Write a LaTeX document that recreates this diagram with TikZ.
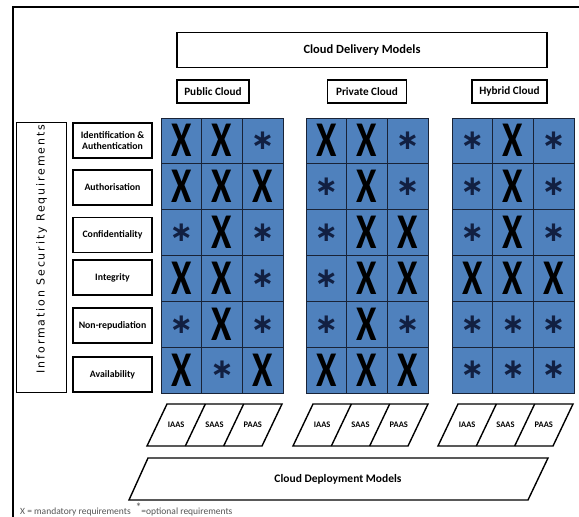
\documentclass[tikz,border=0pt]{standalone}
\usepackage{fontspec}
\setmainfont{Carlito}
\newfontfamily\titlefont[LetterSpace=17]{DejaVu Sans}
\newfontfamily\starfont{DejaVu Sans}
\usetikzlibrary{positioning}
\definecolor{cellblue}{RGB}{79,129,189}
\definecolor{gridline}{RGB}{25,35,55}
\definecolor{starblue}{RGB}{18,32,66}
\definecolor{notegray}{RGB}{85,85,85}
\tikzset{
  box/.style={draw,line width=1.6pt},
  rowlabel/.style={box,minimum width=79pt,minimum height=35pt,align=center,inner sep=1pt,font=\bfseries\fontsize{9.8}{11.5}\selectfont},
  cloudbox/.style={box,minimum height=23pt,inner sep=2pt,font=\bfseries\fontsize{11.2}{13}\selectfont},
  cell/.style={fill=cellblue,draw=gridline,line width=0.8pt},
  symX/.style={anchor=base,yshift=-16pt,inner sep=0pt,font=\bfseries\fontsize{50}{50}\selectfont},
  symS/.style={inner sep=0pt,text=starblue,font=\starfont\bfseries\fontsize{28}{28}\selectfont},
  layer/.style={line width=1.4pt,line join=miter},
  svc/.style={inner sep=0pt,font=\bfseries\fontsize{8.5}{9}\selectfont},
}
\begin{document}
\begin{tikzpicture}[x=1pt,y=-1pt]
    \useasboundingbox (0,0) rectangle (579,517);
    \draw[line width=1.8pt] (13,517) -- (13,7) -- (579,7);

    \node[box,minimum width=370pt,minimum height=35pt,font=\bfseries\fontsize{12.5}{14}\selectfont] (delivery) at (362,50) {Cloud Delivery Models};
    \node[cloudbox,minimum width=72pt] (public) at (213,91.5) {Public Cloud};
    \node[cloudbox,minimum width=79pt] (private) at (367,91.5) {Private Cloud};
    \node[cloudbox,minimum width=75pt] (hybrid) at (509.5,91.5) {Hybrid Cloud};

    \node[box,minimum width=50pt,minimum height=270pt] (isr) at (41.5,257.5) {};
    \node[rotate=90,inner sep=0pt,font=\titlefont\fontsize{11}{13}\selectfont] (isrtext) at (41.5,249) {Information Security Requirements};

    \foreach \y/\t [count=\k] in {140.5/{Identification \&\\Authentication},187.5/Authorisation,235/Confidentiality,277.5/Integrity,325.5/Non-repudiation,374.5/Availability}
        \node[rowlabel] (req\k) at (112.5,\y) {\t};

    \foreach \gname/\gx/\marks in {pub/161/{X,X,S,X,X,X,S,X,S,X,X,S,S,X,S,X,S,X},priv/306/{X,X,S,S,X,S,S,X,X,S,X,X,S,X,S,X,X,X},hyb/452/{S,X,S,S,X,S,S,X,S,X,X,X,S,S,S,S,S,S}}{
        \foreach \m [count=\i from 0] in \marks {
            \pgfmathtruncatemacro\row{\i/3}
            \pgfmathtruncatemacro\col{\i-3*\row}
            \draw[cell] (\gx+\col*40.67,118+\row*45.83) rectangle ++(40.67,45.83);
            \if\m X
                \node[symX] (\gname-\row-\col) at (\gx+\col*40.67+20.33,118+\row*45.83+22.92) {\scalebox{0.74}[1]{X}};
            \else
                \node[symS] (\gname-\row-\col) at (\gx+\col*40.67+20.33,118+\row*45.83+22.92) {∗};
            \fi
        }
    }

    \foreach \lx/\lname in {167/pub,313/priv,458/hyb}{
        \draw[layer] (\lx,404) -- (\lx+115,404) -- (\lx+95,446) -- (\lx-20,446) -- cycle;
        \draw[layer] (\lx+38.33,404) -- (\lx+18.33,446);
        \draw[layer] (\lx+76.67,404) -- (\lx+56.67,446);
        \foreach \s [count=\k from 0] in {IAAS,SAAS,PAAS}
            \node[svc] (\lname-\s) at (\lx+9.17+\k*38.33,425) {\s};
    }

    \draw[layer] (148,458) -- (548,458) -- (528,500) -- (129,500) -- cycle;
    \node[font=\bfseries\fontsize{11.5}{13}\selectfont] (deployment) at (338,479) {Cloud Deployment Models};

    \node[anchor=base west,inner sep=0pt,text=notegray,font=\fontsize{9.5}{10}\selectfont] (legend) at (20,514) {X = mandatory requirements\enspace\raisebox{3pt}{\fontsize{12}{12}\selectfont *}=optional requirements};
\end{tikzpicture}
\end{document}
